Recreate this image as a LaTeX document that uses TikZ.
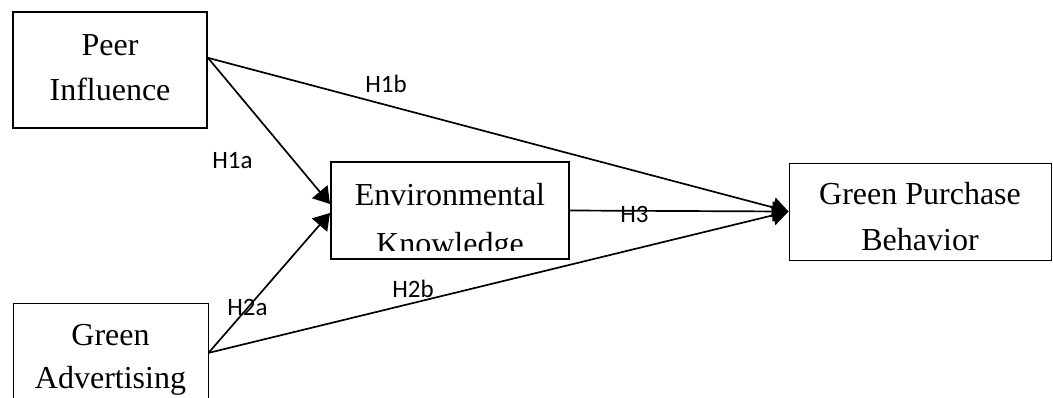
\documentclass[tikz,border=0pt]{standalone}
\usepackage{fontspec}
\setmainfont{Liberation Serif}
\newfontfamily\labelfont{Carlito}
\usetikzlibrary{arrows.meta,calc}
\tikzset{
  thickbox/.style={draw, line width=1pt, inner sep=0pt, rectangle},
  thinbox/.style={draw, line width=0.5pt, inner sep=0pt, rectangle},
  boxtext/.style={anchor=base, inner sep=0pt, font=\fontsize{16}{19}\selectfont},
  hlabel/.style={anchor=base west, inner sep=0pt, font=\labelfont\fontsize{12.5}{15}\selectfont},
  link/.style={line width=0.85pt, -{Triangle[length=8pt,width=10pt]}}
}
\begin{document}
\begin{tikzpicture}[x=0.5pt,y=-0.5pt]
\clip (0,0) rectangle (1053,397);
\fill[white] (0,0) rectangle (1053,397);
% boxes
\node[thickbox, minimum width=97pt, minimum height=58pt] (peer) at (110,70) {};
\node[thickbox, minimum width=119pt, minimum height=48.5pt] (ek) at (450,210.5) {};
\node[thinbox, minimum width=131pt, minimum height=48.5pt] (gpb) at (920,211.5) {};
\node[thinbox, minimum width=97.5pt, minimum height=58.5pt] (ga) at (110.5,361.5) {};
% texts
\node[boxtext] (peer1) at (110,55) {Peer};
\node[boxtext] (peer2) at (110,100) {Influence};
\begin{scope}
\clip (331,162) rectangle (569,250);
\node[boxtext] (ek1) at (450,205) {Environmental};
\node[boxtext] (ek2) at (450,254) {Knowledge};
\end{scope}
\node[boxtext] (gpb1) at (920,204) {Green Purchase};
\node[boxtext] (gpb2) at (920,250) {Behavior};
\node[boxtext] (ga1) at (110.5,345) {Green};
\node[boxtext] (ga2) at (110.5,388) {Advertising};
% connectors
\coordinate (peerout) at ($(peer.north east)!0.397!(peer.south east)$);
\coordinate (gaout) at ($(ga.north east)!0.427!(ga.south east)$);
\draw[link] (peerout) -- ($(ek.west)+(0,-6.5)$);
\draw[link] (gaout) -- ($(ek.west)+(0,2.5)$);
\draw[link] (peerout) -- (gpb.west);
\draw[link] (ek.east) -- (gpb.west);
\draw[link] (gaout) -- (gpb.west);
% labels
\node[hlabel] (h1a) at (212,168) {H1a};
\node[hlabel] (h1b) at (365,92) {H1b};
\node[hlabel] (h3) at (620,222) {H3};
\node[hlabel] (h2a) at (227,315) {H2a};
\node[hlabel] (h2b) at (392,297) {H2b};
\end{tikzpicture}
\end{document}
